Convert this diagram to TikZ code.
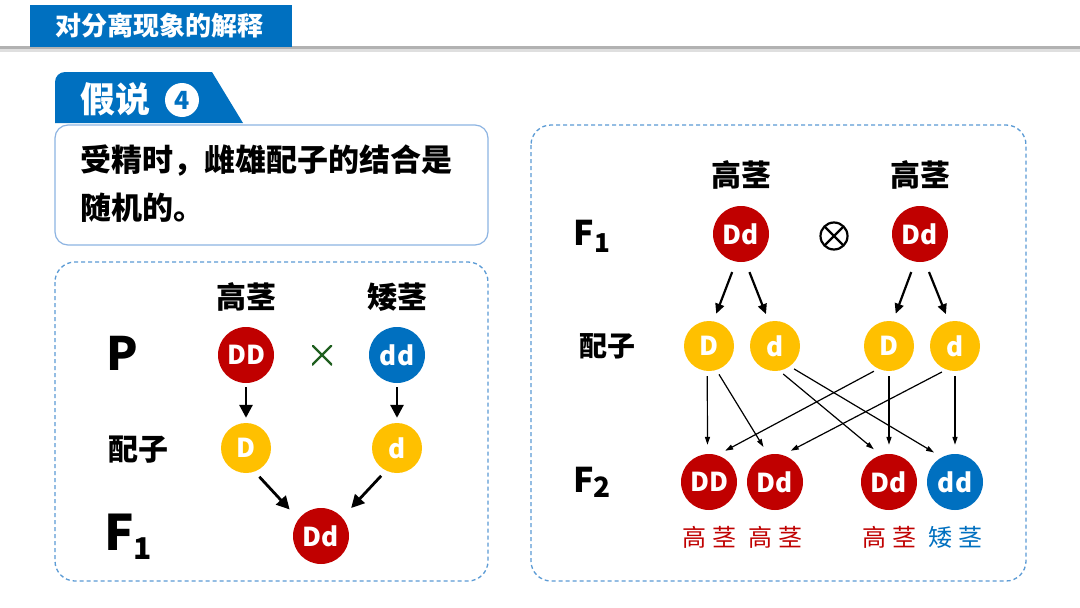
\documentclass[tikz,border=0pt]{standalone}
\usepackage{fontspec}
\setmainfont{Noto Sans CJK SC}[BoldFont={Noto Sans CJK SC Black}]
\usetikzlibrary{arrows.meta}
\definecolor{tred}{HTML}{C00000}
\definecolor{tblue}{HTML}{0070C0}
\definecolor{tyellow}{HTML}{FFC000}
\definecolor{tgreen}{HTML}{1F5F1F}
\definecolor{dashblue}{HTML}{5B9BD5}
\definecolor{boxblue}{HTML}{8DB4E2}
\newcommand{\fs}[1]{\fontsize{#1}{#1}\selectfont}
\tikzset{
  geno/.style={circle, fill=#1, text=white, font=\fs{26}\bfseries, minimum size=56pt, inner sep=0pt},
  gam/.style={circle, fill=tyellow, text=white, font=\fs{26}\bfseries, minimum size=50pt, inner sep=0pt},
  lbl/.style={font=\fs{30}\bfseries, inner sep=0pt},
  rlbl/.style={font=\fs{24}, inner sep=0pt, text=#1},
  dbox/.style={draw=dashblue, line width=1.3pt, dash pattern=on 4pt off 3pt, rounded corners=20pt},
  bigarrow/.style={line width=2.8pt, -{Triangle[length=13pt,width=13pt]}},
  midarrow/.style={line width=2.2pt, -{Triangle[length=10pt,width=9pt]}},
  thinarrow/.style={line width=1.2pt, -{Triangle[length=8pt,width=5pt]}, shorten <=5pt, shorten >=9pt},
}
\begin{document}
\begin{tikzpicture}[x=1pt,y=-1pt]
\useasboundingbox (0,0) rectangle (1080,608);
\fill[white] (0,0) rectangle (1080,608);

% header
\fill[gray!25] (0,49) rectangle (1080,52);
\fill[gray!60] (0,46) rectangle (1080,49);
\fill[tblue] (30,5) rectangle (292,47);
\node[text=white, font=\fs{26}\bfseries, inner sep=0pt] (title) at (160,26) {对分离现象的解释};

% hypothesis tab
\fill[tblue] (55,123) -- (55,82) to[out=90,in=180] (65,72) -- (212,72) -- (243,123) -- cycle;
\node[text=white, font=\fs{35}\bfseries, inner sep=0pt] (jiashuo) at (115,99) {假说};
\node[circle, fill=white, text=tblue, font=\fs{25}\bfseries, minimum size=34pt, inner sep=0pt] (num) at (182,100) {4};

% hypothesis box
\draw[draw=boxblue, line width=1.2pt, fill=white, rounded corners=13pt] (55,125) rectangle (488,245);
\node[font=\fs{31}\bfseries, anchor=west, inner sep=0pt] (hyp1) at (80,161) {受精时，雌雄配子的结合是};
\node[font=\fs{31}\bfseries, anchor=west, inner sep=0pt] (hyp2) at (80,208) {随机的。};

% left dashed box
\draw[dbox] (55,262) rectangle (488,581);
\node[lbl] (Lgao) at (246,297) {高茎};
\node[lbl] (Lai) at (397,297) {矮茎};
\node[font=\fs{46}\bfseries, inner sep=0pt] (LP) at (122,353) {P};
\node[lbl] (Lpz) at (138,450) {配子};
\node[font=\fs{49}\bfseries, inner sep=0pt] (LF1) at (128,537) {F\raisebox{-9pt}{\fs{30}1}};

\node[geno=tred] (LDD) at (246,355) {DD};
\node[geno=tblue] (Ldd) at (397,355) {dd};
\node[minimum size=20pt, inner sep=0pt, path picture={
   \draw[tgreen, line width=2.4pt] (path picture bounding box.north west) -- (path picture bounding box.south east)
   (path picture bounding box.north east) -- (path picture bounding box.south west);}] (Lx) at (322,355) {};
\node[gam] (LD) at (246,448) {D};
\node[gam] (Ld) at (397,448) {d};
\node[geno=tred] (LDd) at (321,536) {Dd};

\draw[bigarrow, shorten <=4pt, shorten >=5pt] (LDD.south) -- (LD.north);
\draw[bigarrow, shorten <=4pt, shorten >=5pt] (Ldd.south) -- (Ld.north);
\draw[bigarrow, shorten <=7pt, shorten >=13pt] (LD.-70) -- (LDd.143);
\draw[bigarrow, shorten <=7pt, shorten >=13pt] (Ld.-116) -- (LDd.41);

% right dashed box
\draw[dbox] (531,125) rectangle (1026,581);
\node[lbl] (Rgao1) at (741,175) {高茎};
\node[lbl] (Rgao2) at (920,175) {高茎};
\node[font=\fs{34}\bfseries, inner sep=0pt] (RF1) at (592,236) {F\raisebox{-7pt}{\fs{26}1}};
\node[font=\fs{28}\bfseries, inner sep=0pt] (Rpz) at (607,346) {配子};
\node[font=\fs{34}\bfseries, inner sep=0pt] (RF2) at (592,482) {F\raisebox{-5pt}{\fs{28}2}};

\node[geno=tred] (RDd1) at (741,234) {Dd};
\node[geno=tred] (RDd2) at (920,234) {Dd};
\node[circle, draw, line width=2.2pt, minimum size=27pt, inner sep=0pt, path picture={
   \draw[line width=2.2pt] (path picture bounding box.north west) -- (path picture bounding box.south east)
   (path picture bounding box.north east) -- (path picture bounding box.south west);}] (Rself) at (834,236) {};

\node[gam] (GD1) at (709,346) {D};
\node[gam] (Gd1) at (775,346) {d};
\node[gam] (GD2) at (889,346) {D};
\node[gam] (Gd2) at (955,346) {d};

\draw[midarrow, shorten <=11pt, shorten >=8pt] (RDd1.-100) -- (GD1.80);
\draw[midarrow, shorten <=11pt, shorten >=8pt] (RDd1.-81) -- (Gd1.104);
\draw[midarrow, shorten <=11pt, shorten >=8pt] (RDd2.-100) -- (GD2.81);
\draw[midarrow, shorten <=11pt, shorten >=8pt] (RDd2.-80) -- (Gd2.104);

\node[geno=tred] (FDD) at (709,482) {DD};
\node[geno=tred] (FDd1) at (775,482) {Dd};
\node[geno=tred] (FDd2) at (889,482) {Dd};
\node[geno=tblue] (Fdd) at (955,482) {dd};

\draw[thinarrow] (GD1.-94) -- (FDD.93);
\draw[thinarrow] (GD1.-73) -- (FDd1.104);
\draw[thinarrow] (Gd1.-80) -- (FDd2.107);
\draw[thinarrow] (Gd1.-54) -- (Fdd.118);
\draw[thinarrow] (GD2.-115) -- (FDD.73);
\draw[thinarrow] (GD2.-90) -- (FDd2.90);
\draw[thinarrow] (Gd2.-110) -- (FDd1.74);
\draw[thinarrow] (Gd2.-90) -- (Fdd.90);

\node[rlbl=tred] (P1) at (709,537) {高\hspace{6pt}茎};
\node[rlbl=tred] (P2) at (775,537) {高\hspace{6pt}茎};
\node[rlbl=tred] (P3) at (889,537) {高\hspace{6pt}茎};
\node[rlbl=tblue] (P4) at (955,537) {矮\hspace{6pt}茎};
\end{tikzpicture}
\end{document}
